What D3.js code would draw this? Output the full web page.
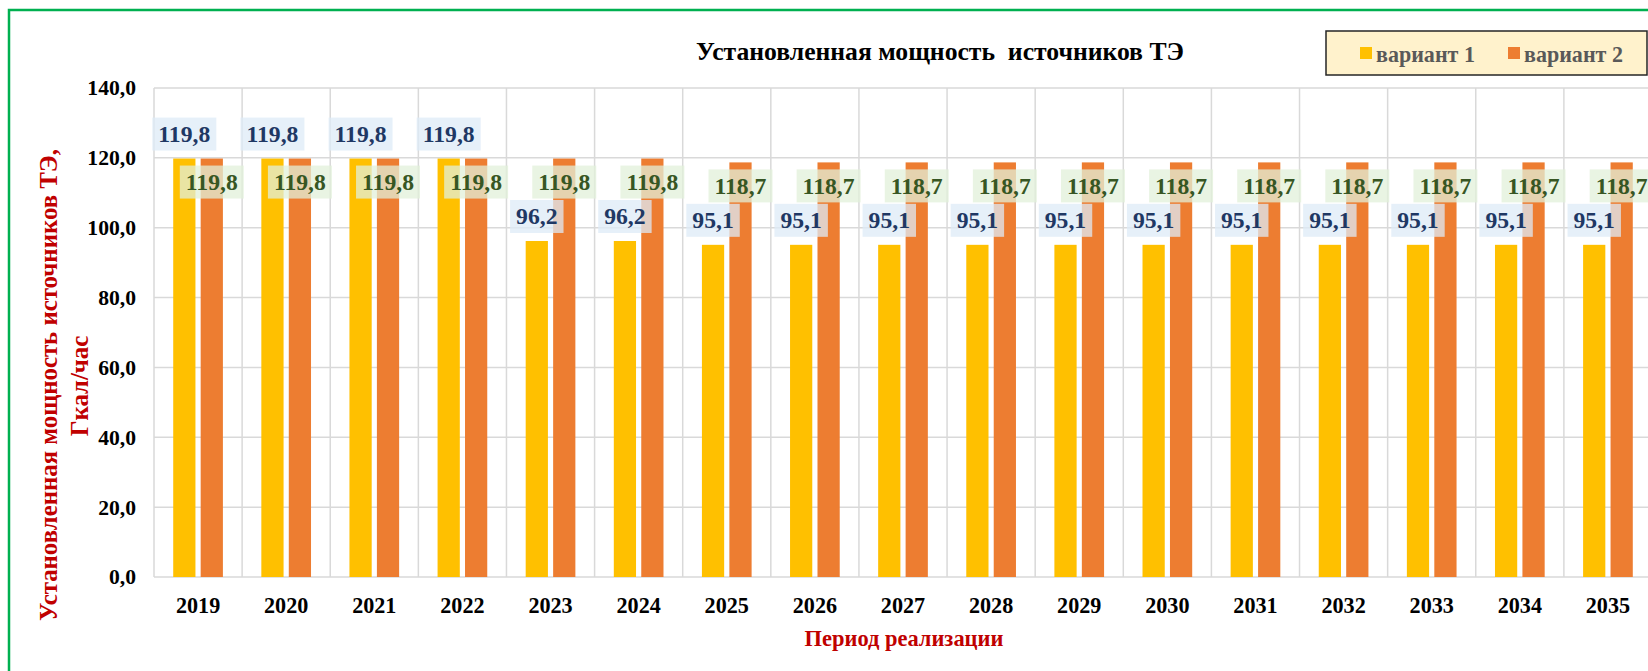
<!DOCTYPE html>
<html>
<head>
<meta charset="utf-8">
<script src="https://cdn.jsdelivr.net/npm/d3@7/dist/d3.min.js"></script>
<style>
  html, body { margin: 0; padding: 0; background: #fff; }
  svg { display: block; }
  text { font-family: "Liberation Serif", "Times New Roman", serif; font-weight: bold; }
</style>
</head>
<body>
<svg id="chart" width="1648" height="671"></svg>
<script>
const years = ["2019","2020","2021","2022","2023","2024","2025","2026","2027","2028","2029","2030","2031","2032","2033","2034","2035"];
const variant1 = [119.8,119.8,119.8,119.8,96.2,96.2,95.1,95.1,95.1,95.1,95.1,95.1,95.1,95.1,95.1,95.1,95.1];
const variant2 = [119.8,119.8,119.8,119.8,119.8,119.8,118.7,118.7,118.7,118.7,118.7,118.7,118.7,118.7,118.7,118.7,118.7];
const seriesNames = ["вариант 1","вариант 2"];
const yTicks = [0,20,40,60,80,100,120,140];
const titleText = "Установленная мощность  источников ТЭ";
const yTitleLines = ["Установленная мощность источников ТЭ,", "Гкал/час"];
const xTitleText = "Период реализации";

const colors = ["#FFC000", "#ED7D31"];
const labelFill = ["#DDEBF7", "#E2F0D9"];
const labelText = ["#1F3864", "#375623"];

const svg = d3.select("#chart");
const plot = { left: 154, right: 1652, top: 88, bottom: 577 };

const fmt = v => d3.format(".1f")(v).replace(".", ",");

// scale a text's font-size so its rendered width matches a target width
function fitSize(sel, base, target) {
  sel.attr("font-size", base);
  const L = sel.node().getComputedTextLength();
  const s = base * target / L;
  sel.attr("font-size", s);
  return s;
}
// measure the font size that gives a string the target width
function sizeFor(str, base, target) {
  const t = svg.append("text").attr("font-size", base).text(str);
  const L = t.node().getComputedTextLength();
  t.remove();
  return base * target / L;
}

// outer green frame
svg.append("rect").attr("x", 9).attr("y", 10).attr("width", 1700).attr("height", 700)
  .attr("fill", "none").attr("stroke", "#00B050").attr("stroke-width", 2.5);

const x0 = d3.scaleBand().domain(years).range([plot.left, plot.right]).paddingInner(0).paddingOuter(0);
const x1 = d3.scaleBand().domain(seriesNames).range([0, x0.bandwidth()]).paddingInner(0.19).paddingOuter(0.7);
const y = d3.scaleLinear().domain([0, 140]).range([plot.bottom, plot.top]);

// gridlines
const grid = svg.append("g");
grid.selectAll("line.h").data(yTicks).enter().append("line")
  .attr("x1", plot.left).attr("x2", plot.right)
  .attr("y1", d => y(d)).attr("y2", d => y(d))
  .attr("stroke", "#D9D9D9").attr("stroke-width", 1.5);
const vLines = years.map(d => x0(d)).concat([x0(years[years.length-1]) + x0.bandwidth()]);
grid.selectAll("line.v").data(vLines).enter().append("line")
  .attr("x1", d => d).attr("x2", d => d)
  .attr("y1", plot.top).attr("y2", plot.bottom)
  .attr("stroke", "#D9D9D9").attr("stroke-width", 1.5);

// y axis tick labels
const tickSize = sizeFor("100,0", 20, 48.7);
const yAxis = d3.axisLeft(y).tickValues(yTicks).tickFormat(fmt).tickSize(0).tickPadding(18);
const gy = svg.append("g").attr("transform", `translate(${plot.left},0)`).call(yAxis);
gy.select(".domain").remove();
gy.selectAll("text").attr("font-size", tickSize).attr("fill", "#000")
  .attr("font-family", "Liberation Serif").attr("font-weight", "bold");

// x axis labels
const yearSize = sizeFor("2025", 20, 44.3);
const xAxis = d3.axisBottom(x0).tickSize(0).tickPadding(0);
const gx = svg.append("g").attr("transform", `translate(0,${plot.bottom})`).call(xAxis);
gx.select(".domain").remove();
gx.selectAll("text").attr("font-size", yearSize).attr("fill", "#000")
  .attr("font-family", "Liberation Serif").attr("font-weight", "bold")
  .attr("y", 28).attr("dy", null).attr("dominant-baseline", "central");

// bars
const rows = years.map((yr, i) => ({ year: yr, vals: [variant1[i], variant2[i]] }));
const gBars = svg.append("g");
rows.forEach(r => {
  r.vals.forEach((v, s) => {
    gBars.append("rect")
      .attr("x", x0(r.year) + x1(seriesNames[s]))
      .attr("y", y(v))
      .attr("width", x1.bandwidth())
      .attr("height", y(0) - y(v))
      .attr("fill", colors[s]);
  });
});

// data labels
const labSize = sizeFor("119,8", 20, 52);
const gLab = svg.append("g");
function addLabel(cx, cy, txt, s) {
  const g = gLab.append("g");
  const t = g.append("text").attr("x", cx).attr("y", cy).attr("text-anchor", "middle")
    .attr("dominant-baseline", "central").attr("font-size", labSize).attr("fill", labelText[s]).text(txt);
  const w = t.node().getComputedTextLength() + 12;
  g.insert("rect", "text").attr("x", cx - w / 2).attr("y", cy - 16.5).attr("width", w).attr("height", 33)
    .attr("fill", labelFill[s]).attr("fill-opacity", 0.75);
}
rows.forEach(r => {
  const [v1, v2] = r.vals;
  const c1 = x0(r.year) + x1(seriesNames[0]) + x1.bandwidth() / 2;
  const c2 = x0(r.year) + x1(seriesNames[1]) + x1.bandwidth() / 2;
  addLabel(c1, y(v1) - 24.5, fmt(v1), 0);
  addLabel(c2, y(v2) + 23.5, fmt(v2), 1);
});

// title
const title = svg.append("text").attr("x", 940).attr("y", 51).attr("text-anchor", "middle")
  .attr("dominant-baseline", "central").attr("fill", "#000")
  .style("white-space", "pre").text(titleText);
fitSize(title, 24, 488);

// legend
const lg = svg.append("g");
lg.append("rect").attr("x", 1326).attr("y", 31).attr("width", 321).attr("height", 44)
  .attr("fill", "#FFF2CC").attr("stroke", "#262626").attr("stroke-width", 1.5);
const legX = [1360, 1508];
const legSize = sizeFor(seriesNames[0], 20, 99);
seriesNames.forEach((n, i) => {
  lg.append("rect").attr("x", legX[i]).attr("y", 47).attr("width", 12).attr("height", 12).attr("fill", colors[i]);
  lg.append("text").attr("x", legX[i] + 16).attr("y", 54).attr("dominant-baseline", "central")
    .attr("font-size", legSize).attr("fill", "#595959").text(n);
});

// axis titles
const xt = svg.append("text").attr("x", 904).attr("y", 638).attr("text-anchor", "middle")
  .attr("dominant-baseline", "central").attr("fill", "#C00000").text(xTitleText);
fitSize(xt, 22, 199);

const ytSize = sizeFor(yTitleLines[0], 22, 472);
const yt = svg.append("g").attr("transform", "translate(0,385) rotate(-90)");
yt.append("text").attr("x", 0).attr("y", 48).attr("text-anchor", "middle")
  .attr("dominant-baseline", "central").attr("font-size", ytSize).attr("fill", "#C00000").text(yTitleLines[0]);
yt.append("text").attr("x", -1).attr("y", 79).attr("text-anchor", "middle")
  .attr("dominant-baseline", "central").attr("font-size", ytSize).attr("fill", "#C00000").text(yTitleLines[1]);
</script>
</body>
</html>
